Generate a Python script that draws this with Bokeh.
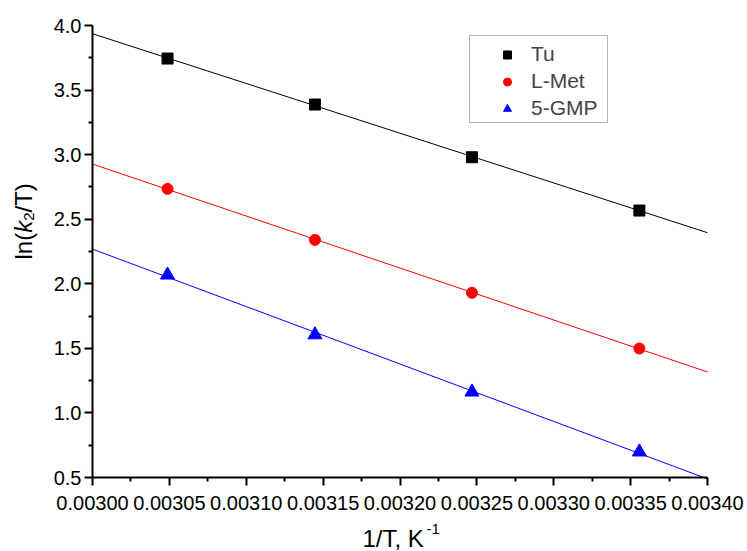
import numpy as np
from bokeh.plotting import figure
from bokeh.models import (Range1d, FixedTicker, PrintfTickFormatter,
                          Legend, LegendItem, Label, BoxAnnotation)
from bokeh.embed import file_html
from bokeh.resources import INLINE

# Eyring-type plot: ln(k2/T) against 1/T for three ligands
inv_T = [0.0030488, 0.0031447, 0.0032468, 0.0033557]
tu = [3.744, 3.388, 2.980, 2.567]
l_met = [2.735, 2.340, 1.930, 1.499]
gmp = [2.068, 1.605, 1.162, 0.698]
names = ["Tu", "L-Met", "5-GMP"]
colors = ["black", "red", "blue"]
markers = ["square", "circle", "triangle"]
sizes = [11, 11, 14]

x_major = [0.00300, 0.00305, 0.00310, 0.00315, 0.00320, 0.00325, 0.00330, 0.00335, 0.00340]
x_minor = [0.003025, 0.003075, 0.003125, 0.003175, 0.003225, 0.003275, 0.003325, 0.003375]
y_major = [0.5, 1.0, 1.5, 2.0, 2.5, 3.0, 3.5, 4.0]
y_minor = [0.75, 1.25, 1.75, 2.25, 2.75, 3.25, 3.75]

x_lo, x_hi = 0.00300, 0.00340
y_lo, y_hi = 0.5, 4.0

W, H = 747, 551
# pixel box of the axes inside the canvas
AX_L, AX_R, AX_T, AX_B = 92, 707, 25, 477
xs = (x_hi - x_lo) / (AX_R - AX_L)
ys_ = (y_hi - y_lo) / (AX_B - AX_T)
x_range = Range1d(x_lo - AX_L * xs, x_hi + (W - AX_R) * xs)
y_range = Range1d(y_lo - (H - AX_B) * ys_, y_hi + AX_T * ys_)

FONT = "Liberation Sans"

p = figure(width=W, height=H, output_backend="svg", toolbar_location=None,
           x_range=x_range, y_range=y_range,
           min_border_left=0, min_border_right=0, min_border_top=0,
           min_border_bottom=0)
p.outline_line_color = None
p.xgrid.visible = False
p.ygrid.visible = False
p.background_fill_color = "white"
p.border_fill_color = "white"

# axes pinned to the data corner so the whole canvas is the plot frame
p.xaxis.fixed_location = y_lo
p.yaxis.fixed_location = x_lo
p.xaxis.bounds = (x_lo, x_hi)
p.yaxis.bounds = (y_lo, y_hi)
p.xaxis.ticker = FixedTicker(ticks=x_major, minor_ticks=x_minor)
p.yaxis.ticker = FixedTicker(ticks=y_major, minor_ticks=y_minor)
p.xaxis.formatter = PrintfTickFormatter(format="%.5f")
p.yaxis.formatter = PrintfTickFormatter(format="%.1f")
for ax in (p.xaxis, p.yaxis):
    ax.axis_line_width = 2
    ax.major_tick_line_width = 2
    ax.minor_tick_line_width = 2
    ax.major_tick_in = 0
    ax.major_tick_out = 8
    ax.minor_tick_in = 0
    ax.minor_tick_out = 4
    ax.major_label_text_font = FONT
    ax.major_label_text_font_size = "20px"
    ax.major_label_text_color = "black"
    ax.axis_line_color = "black"
    ax.major_tick_line_color = "black"
    ax.minor_tick_line_color = "black"
p.xaxis.major_label_standoff = 10
p.yaxis.major_label_standoff = 3

# linear fits across the full x span, then the measured points on top
fit_x = np.array([x_lo, x_hi])
point_renderers = []
for ys, col in zip([tu, l_met, gmp], colors):
    slope, icpt = np.polyfit(inv_T, ys, 1)
    p.line(fit_x, slope * fit_x + icpt, line_color=col, line_width=1)
for ys, col, mk, sz in zip([tu, l_met, gmp], colors, markers, sizes):
    r = p.scatter(inv_T, ys, marker=mk, size=sz, fill_color=col, line_color=col)
    point_renderers.append(r)

legend = Legend(items=[LegendItem(label=n, renderers=[r]) for n, r in zip(names, point_renderers)],
                location=(497, 431), padding=0, spacing=3, margin=0,
                glyph_width=20, glyph_height=21, label_height=21, label_standoff=14,
                border_line_alpha=0, background_fill_alpha=0,
                label_text_font=FONT, label_text_font_size="21px")
p.add_layout(legend)
p.add_layout(BoxAnnotation(left=469, right=607, top=H - 35, bottom=H - 122,
                           left_units="screen", right_units="screen",
                           top_units="screen", bottom_units="screen",
                           fill_alpha=0, line_color="black", line_width=1))

# axis titles built from pieces for italic / sub- / superscript parts
def piece(x, y, text, size="24px", angle=0.0, style="normal"):
    p.add_layout(Label(x=x, y=y, x_units="screen", y_units="screen", text=text,
                       angle=angle, text_font=FONT, text_font_size=size,
                       text_font_style=style, text_align="left",
                       text_baseline="alphabetic", text_color="black"))

ya = np.pi / 2
piece(23, 292, "ln(", angle=ya)
piece(23, 318.7, "k", angle=ya, style="italic")
piece(28, 330.7, "2", size="15px", angle=ya)
piece(23, 339, "/T)", angle=ya)

piece(362, 13, "1/T, K")
piece(426, 23, "-1", size="15px")

open("out.html", "w").write(file_html(p, INLINE))
